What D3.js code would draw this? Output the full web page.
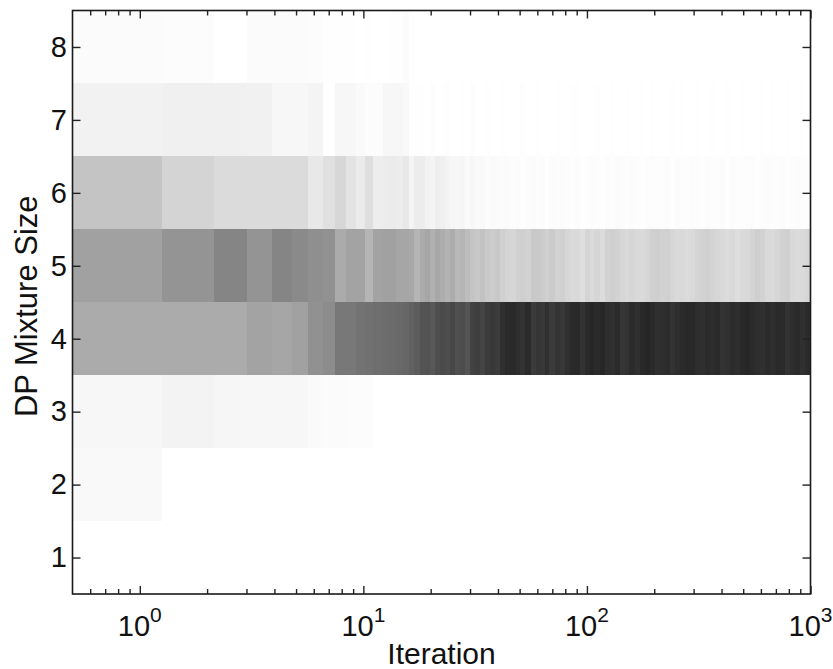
<!DOCTYPE html>
<html>
<head>
<meta charset="utf-8">
<script src="https://cdn.jsdelivr.net/npm/d3@7"></script>
<style>
  body { margin: 0; background: #fff; }
  svg { display: block; font-family: "Liberation Sans", Arial, Helvetica, sans-serif; }
</style>
</head>
<body>
<svg width="833" height="669"></svg>
<script>
// column edges along the iteration axis
const iterEdges = [
    0.5, 1.26, 2.14, 3.03, 3.89, 4.8, 5.66, 6.6, 7.5, 8.4, 9.3, 10.2, 11.1, 12.2, 13.1, 14, 15, 16, 16.9, 17.9,
    18.85, 19.85, 20.9, 22, 23.2, 24.4, 25.7, 27, 28.5, 30, 31.6, 33.2, 35, 36.8, 38.8, 40.8, 43, 45, 48, 50,
    53, 56, 59, 62, 65, 68, 72, 76, 80, 84, 88, 93, 98, 103, 108, 114, 120, 127, 133, 140,
    148, 155, 164, 172, 181, 191, 201, 212, 223, 235, 247, 260, 274, 288, 303, 319, 336, 354, 373, 392,
    413, 435, 458, 482, 508, 534, 563, 592, 624, 656, 691, 728, 766, 807, 849, 894, 941, 1000
];

// posterior mass of each DP mixture size per column (missing = 0)
const p8 = [0.015, 0.012, 0, 0.015, 0.015, 0.015, 0.01, 0.005, 0.005, 0.005, 0, 0.005, 0, 0, 0.005, 0.005, 0.01, 0.005];

const p7 = [
    0.05, 0.06, 0.06, 0.055, 0.03, 0.03, 0.045, 0, 0.03, 0.03, 0.02, 0.01, 0.012, 0.03, 0.03, 0.03, 0.025, 0.005, 0.005,
    0.005, 0, 0.008, 0, 0.004, 0.006, 0, 0, 0.005, 0,
    0.006, 0, 0, 0.004, 0, 0, 0.005, 0, 0, 0,
    0.006, 0, 0, 0.005, 0, 0, 0, 0.004, 0, 0,
    0.003, 0.005, 0, 0, 0, 0.004, 0, 0, 0.005, 0,
    0, 0.004, 0, 0, 0.003, 0, 0.005, 0, 0, 0,
    0.004, 0, 0.004, 0, 0, 0.005, 0, 0, 0.003, 0,
    0, 0.004, 0, 0, 0.005, 0, 0, 0, 0.004, 0,
    0.003, 0, 0, 0.005, 0, 0, 0.004, 0
];

const p6 = [
    0.23, 0.17, 0.14, 0.14, 0.14, 0.14, 0.09, 0.12, 0.155, 0.11, 0.08, 0.13, 0.07, 0.075, 0.08, 0.07, 0.09, 0.045, 0.075,
    0.075, 0.05, 0.045, 0.065, 0.06, 0.045, 0.035, 0.03, 0.035, 0.02,
    0.03, 0.02, 0.025, 0.012, 0.02, 0.015,
    0.01, 0.015, 0.008, 0.012, 0.005, 0.01, 0.015, 0.008, 0.012, 0.005,
    0.01, 0.006, 0.012, 0.008, 0.005, 0.01, 0.005, 0.008, 0.012, 0.006,
    0.005, 0.01, 0.008, 0.014, 0.01, 0.006, 0.012, 0.008, 0.005, 0.01,
    0.012, 0.006, 0.008, 0.012, 0.005, 0.01, 0.008, 0.006, 0.012, 0.008,
    0.005, 0.01, 0.006, 0.008, 0.012, 0.005, 0.01, 0.008, 0.006, 0.01,
    0.012, 0.005, 0.008, 0.01, 0.006, 0.008, 0.012, 0.005, 0.008, 0.01,
    0.006, 0.008
];

const p5 = [
    0.37, 0.42, 0.48, 0.42, 0.48, 0.46, 0.44, 0.43, 0.33, 0.36, 0.36, 0.29, 0.36, 0.37, 0.37, 0.35, 0.35, 0.34, 0.29,
    0.33, 0.35, 0.31, 0.34, 0.32, 0.30, 0.325, 0.28, 0.29, 0.26,
    0.23, 0.215, 0.24, 0.21, 0.20, 0.215, 0.185, 0.17, 0.16, 0.185,
    0.19, 0.175, 0.215, 0.21, 0.20, 0.185, 0.205, 0.175, 0.185, 0.16,
    0.145, 0.15, 0.13, 0.17, 0.145, 0.16, 0.14, 0.175, 0.19, 0.175,
    0.16, 0.15, 0.16, 0.15, 0.145, 0.16, 0.185, 0.19, 0.175, 0.185,
    0.16, 0.145, 0.15, 0.14, 0.15, 0.17, 0.175, 0.185, 0.17, 0.16,
    0.15, 0.14, 0.15, 0.13, 0.145, 0.15, 0.17, 0.19, 0.175, 0.15,
    0.145, 0.16, 0.175, 0.185, 0.15, 0.14, 0.145, 0.16
];

const p4 = [
    0.33, 0.33, 0.33, 0.36, 0.35, 0.37, 0.43, 0.45, 0.53, 0.53, 0.55, 0.555, 0.57, 0.575, 0.58, 0.59, 0.60, 0.62, 0.64,
    0.67, 0.68, 0.655, 0.69, 0.71, 0.695, 0.72, 0.69, 0.70, 0.67,
    0.74, 0.755, 0.73, 0.77, 0.78, 0.765, 0.81, 0.83, 0.835, 0.82,
    0.80, 0.83, 0.77, 0.79, 0.78, 0.81, 0.77, 0.795, 0.78, 0.81,
    0.835, 0.84, 0.80, 0.835, 0.85, 0.83, 0.85, 0.82, 0.81, 0.83,
    0.79, 0.80, 0.83, 0.81, 0.84, 0.85, 0.835, 0.81, 0.82, 0.83,
    0.80, 0.82, 0.835, 0.845, 0.84, 0.82, 0.81, 0.83, 0.82, 0.835,
    0.80, 0.81, 0.83, 0.82, 0.84, 0.85, 0.835, 0.82, 0.81, 0.83,
    0.82, 0.835, 0.83, 0.80, 0.82, 0.835, 0.81, 0.83
];

const p3 = [0.03, 0.047, 0.035, 0.03, 0.03, 0.03, 0.02, 0.015, 0.015, 0.01, 0.01, 0.01];
const p2 = [0.025];
const p1 = [];

const sizes = [1, 2, 3, 4, 5, 6, 7, 8];
const yTicks = [1, 2, 3, 4, 5, 6, 7, 8];
const xMajor = [1, 10, 100, 1000];
const xMinor = [0.6, 0.7, 0.8, 0.9, 2, 3, 4, 5, 6, 7, 8, 9, 20, 30, 40, 50, 60, 70, 80, 90,
    200, 300, 400, 500, 600, 700, 800, 900];

const rows = [p1, p2, p3, p4, p5, p6, p7, p8];

const plotLeft = 72.5, plotRight = 810.5, plotTop = 10.5, plotBottom = 594;

const svg = d3.select("svg");

const x = d3.scaleLog().domain([0.5, 1000]).range([plotLeft, plotRight]);
const y = d3.scaleLinear().domain([0.5, 8.5]).range([plotBottom, plotTop]);
const shade = d3.scaleLinear().domain([0, 1]).range(["#ffffff", "#000000"]);

// flatten to cells
const cells = [];
sizes.forEach((s, i) => {
    const vals = rows[i];
    for (let b = 0; b < iterEdges.length - 1; b++) {
        const p = vals[b] || 0;
        if (p > 0) cells.push({ size: s, lo: iterEdges[b], hi: iterEdges[b + 1], p: p });
    }
});

svg.append("rect")
    .attr("x", plotLeft).attr("y", plotTop)
    .attr("width", plotRight - plotLeft).attr("height", plotBottom - plotTop)
    .attr("fill", "#fff");

svg.append("g")
    .attr("shape-rendering", "crispEdges")
    .selectAll("rect")
    .data(cells)
    .enter()
    .append("rect")
    .attr("x", d => x(d.lo))
    .attr("width", d => x(d.hi) - x(d.lo))
    .attr("y", d => y(d.size + 0.5))
    .attr("height", d => y(d.size - 0.5) - y(d.size + 0.5))
    .attr("fill", d => shade(d.p));

// axes, ticks pointing inward on all four sides
function tidy(g) {
    g.select(".domain").remove();
    g.selectAll(".tick line").attr("stroke", "#222").attr("stroke-width", 1.4);
}

svg.append("g").attr("transform", `translate(0,${plotBottom})`)
    .call(d3.axisBottom(x).tickValues(xMajor).tickSize(-8).tickFormat(""))
    .call(tidy);
svg.append("g").attr("transform", `translate(0,${plotBottom})`)
    .call(d3.axisBottom(x).tickValues(xMinor).tickSize(-5).tickFormat(""))
    .call(tidy);
svg.append("g").attr("transform", `translate(0,${plotTop})`)
    .call(d3.axisTop(x).tickValues(xMajor).tickSize(-8).tickFormat(""))
    .call(tidy);
svg.append("g").attr("transform", `translate(0,${plotTop})`)
    .call(d3.axisTop(x).tickValues(xMinor).tickSize(-5).tickFormat(""))
    .call(tidy);

svg.append("g").attr("transform", `translate(${plotLeft},0)`)
    .call(d3.axisLeft(y).tickValues(yTicks).tickSize(-8).tickPadding(5.5))
    .call(tidy)
    .call(g => g.selectAll("text")
        .attr("font-family", "'Liberation Sans', Arial, sans-serif")
        .attr("font-size", 29)
        .attr("fill", "#111"));
svg.append("g").attr("transform", `translate(${plotRight},0)`)
    .call(d3.axisRight(y).tickValues(yTicks).tickSize(-8).tickFormat(""))
    .call(tidy);

// frame
svg.append("rect")
    .attr("x", plotLeft).attr("y", plotTop)
    .attr("width", plotRight - plotLeft).attr("height", plotBottom - plotTop)
    .attr("fill", "none")
    .attr("stroke", "#1a1a1a")
    .attr("stroke-width", 1.6);

// 10^k labels
const xl = svg.append("g")
    .attr("font-size", 29)
    .attr("fill", "#111")
    .attr("text-anchor", "middle");
xMajor.forEach(v => {
    const t = xl.append("text").attr("x", x(v)).attr("y", 636);
    t.append("tspan").text("10");
    t.append("tspan").attr("dy", -14).attr("font-size", 21).text(Math.round(Math.log10(v)));
});

svg.append("text")
    .attr("x", (plotLeft + plotRight) / 2)
    .attr("y", 664)
    .attr("text-anchor", "middle")
    .attr("font-size", 30)
    .attr("fill", "#111")
    .text("Iteration");

svg.append("text")
    .attr("transform", `translate(37,${(plotTop + plotBottom) / 2 + 4}) rotate(-90)`)
    .attr("text-anchor", "middle")
    .attr("font-size", 31)
    .attr("fill", "#111")
    .text("DP Mixture Size");
</script>
</body>
</html>
